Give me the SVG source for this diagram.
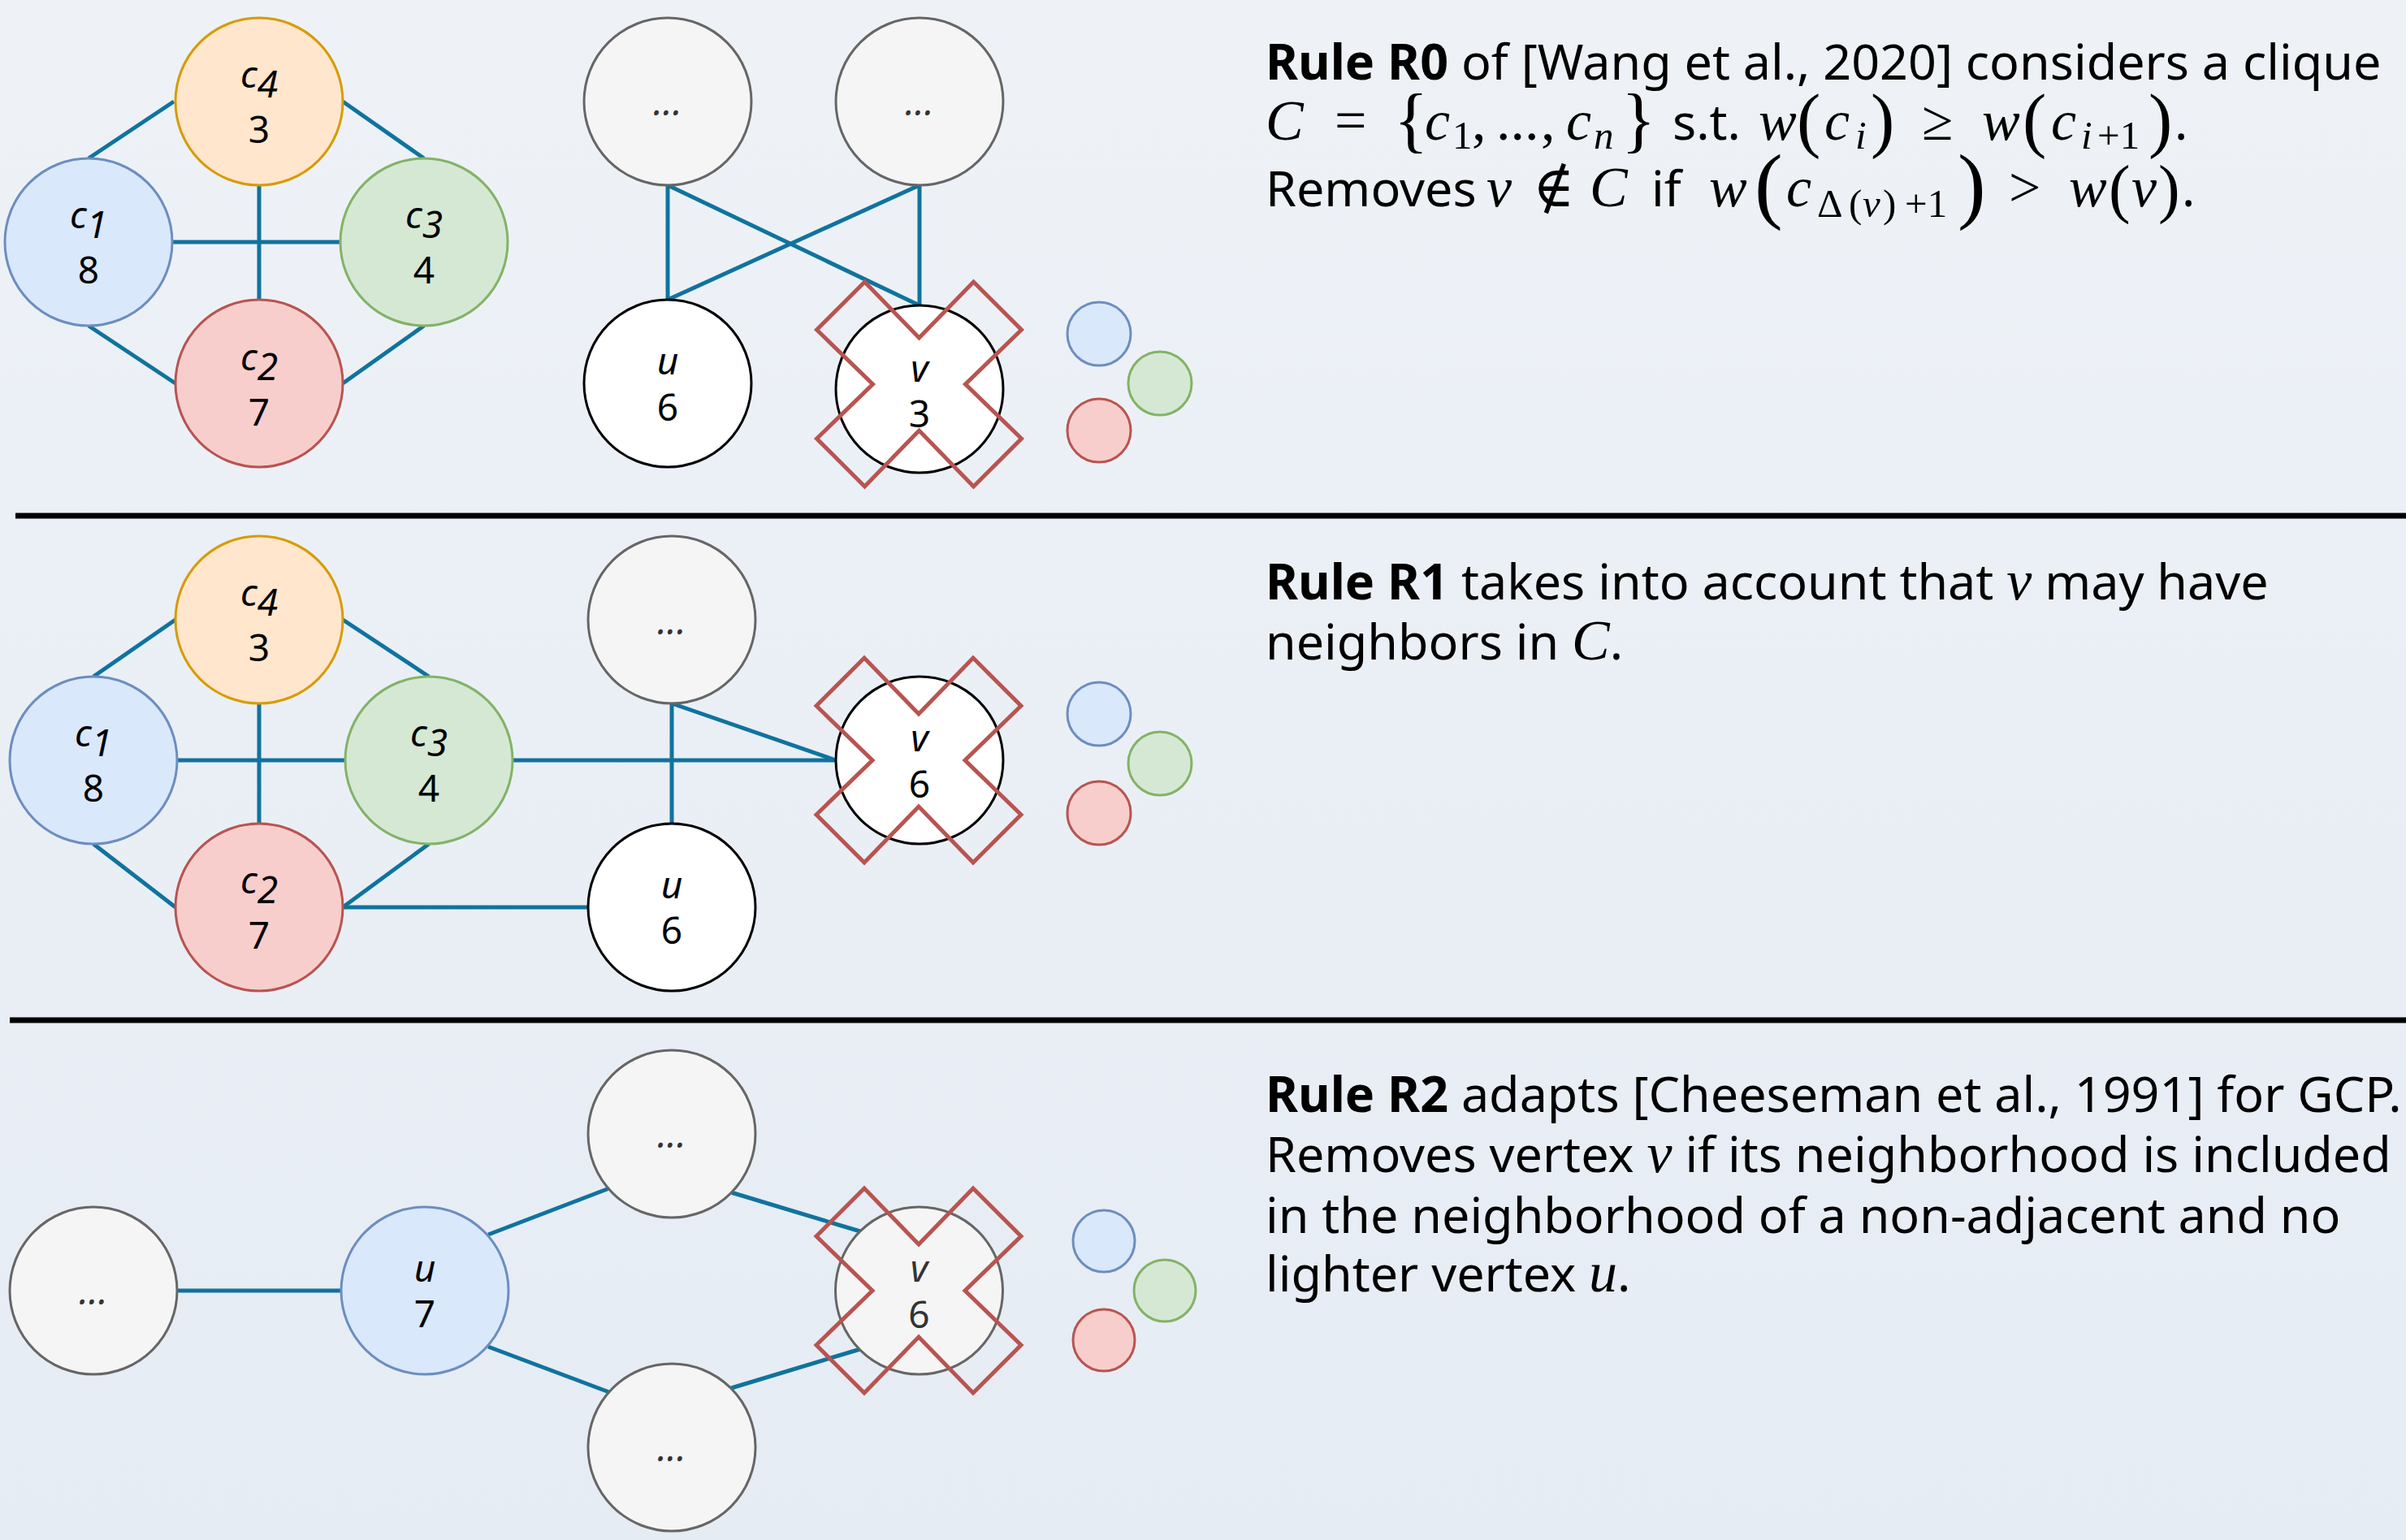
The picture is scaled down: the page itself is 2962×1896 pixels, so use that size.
<svg xmlns="http://www.w3.org/2000/svg" width="2962" height="1896" viewBox="0 0 2962 1896">
<defs>
<linearGradient id="bg" x1="0" y1="0" x2="0" y2="1">
<stop offset="0" stop-color="#EEF2F7"/>
<stop offset="1" stop-color="#E6ECF4"/>
</linearGradient>
<path id="xmark" d="M -126,-67 L -67,-126 L 0,-57 L 67,-126 L 126,-67 L 57,0 L 126,67 L 67,126 L 0,57 L -67,126 L -126,67 L -57,0 Z"/>
</defs>
<style>
.edge{stroke:#10739E;stroke-width:5;fill:none}
.n{stroke-width:3}
.sm{stroke-width:3}
.blue{fill:#dae8fc;stroke:#6c8ebf}
.orange{fill:#ffe6cc;stroke:#d79b00}
.green{fill:#d5e8d4;stroke:#82b366}
.red{fill:#f8cecc;stroke:#b85450}
.gray{fill:#f5f5f5;stroke:#666666}
.white{fill:#ffffff;stroke:#000000}
.lbl{font-family:"Noto Sans","Open Sans",sans-serif;font-size:46px;text-anchor:middle;fill:#000000}
.it{font-style:italic}
.glbl{fill:#333333}
.xm{fill:none;stroke:#b85450;stroke-width:5}
.sep{stroke:#000000;stroke-width:7}
.txt{font-family:"Noto Sans","Open Sans",sans-serif;font-size:61px;font-style:normal;fill:#000000}
.b{font-weight:bold}
.m{font-family:"Liberation Serif","DejaVu Serif",serif;font-style:italic;font-size:70px;fill:#000000}
.mu{font-family:"Liberation Serif","DejaVu Serif",serif;font-size:70px;fill:#000000}
.s{font-size:49px}
.p88{font-size:88px;font-style:normal}
.p104{font-size:104px;font-style:normal}
.p80{font-size:80px;font-style:normal}
</style>
<rect x="0" y="0" width="2962" height="1896" fill="url(#bg)"/>

<g id="separators">
<line class="sep" x1="19" y1="635" x2="2962" y2="635"/>
<line class="sep" x1="12" y1="1256" x2="2962" y2="1256"/>
</g>

<g id="connectors">
<line class="edge" x1="214" y1="125" x2="109" y2="195"/>
<line class="edge" x1="422" y1="125" x2="522" y2="195"/>
<line class="edge" x1="109" y1="401" x2="216" y2="472"/>
<line class="edge" x1="522" y1="401" x2="422" y2="472"/>
<line class="edge" x1="212" y1="298" x2="419" y2="298"/>
<line class="edge" x1="319" y1="228" x2="319" y2="369"/>
<line class="edge" x1="822" y1="228" x2="822" y2="369"/>
<line class="edge" x1="822" y1="228" x2="1132" y2="376"/>
<line class="edge" x1="1132" y1="228" x2="822" y2="369"/>
<line class="edge" x1="1132" y1="228" x2="1132" y2="376"/>
<line class="edge" x1="216" y1="763" x2="115" y2="833"/>
<line class="edge" x1="422" y1="763" x2="528" y2="833"/>
<line class="edge" x1="115" y1="1039" x2="216" y2="1117"/>
<line class="edge" x1="528" y1="1039" x2="422" y2="1117"/>
<line class="edge" x1="218" y1="936" x2="425" y2="936"/>
<line class="edge" x1="319" y1="866" x2="319" y2="1015"/>
<line class="edge" x1="631" y1="936" x2="1029" y2="936"/>
<line class="edge" x1="422" y1="1117" x2="724" y2="1117"/>
<line class="edge" x1="827" y1="866" x2="827" y2="1014"/>
<line class="edge" x1="827" y1="866" x2="1029" y2="936"/>
<line class="edge" x1="218" y1="1589" x2="420" y2="1589"/>
<line class="edge" x1="601" y1="1520" x2="750" y2="1463"/>
<line class="edge" x1="601" y1="1658" x2="750" y2="1714"/>
<line class="edge" x1="900" y1="1468" x2="1059" y2="1516"/>
<line class="edge" x1="900" y1="1709" x2="1059" y2="1661"/>
</g>

<g id="r0-c4"><circle class="n orange" cx="319" cy="125" r="103"/><text class="lbl" x="319" y="108"><tspan class="it">c</tspan><tspan class="it" dy="12">4</tspan></text><text class="lbl" x="319" y="176">3</text></g>
<g id="r0-c1"><circle class="n blue" cx="109" cy="298" r="103"/><text class="lbl" x="109" y="281"><tspan class="it">c</tspan><tspan class="it" dy="12">1</tspan></text><text class="lbl" x="109" y="349">8</text></g>
<g id="r0-c3"><circle class="n green" cx="522" cy="298" r="103"/><text class="lbl" x="522" y="281"><tspan class="it">c</tspan><tspan class="it" dy="12">3</tspan></text><text class="lbl" x="522" y="349">4</text></g>
<g id="r0-c2"><circle class="n red" cx="319" cy="472" r="103"/><text class="lbl" x="319" y="456"><tspan class="it">c</tspan><tspan class="it" dy="12">2</tspan></text><text class="lbl" x="319" y="524">7</text></g>
<g id="r0-n1"><circle class="n gray" cx="822" cy="125" r="103"/><text class="lbl it glbl" x="822" y="142">...</text></g>
<g id="r0-n2"><circle class="n gray" cx="1132" cy="125" r="103"/><text class="lbl it glbl" x="1132" y="142">...</text></g>
<g id="r0-u"><circle class="n white" cx="822" cy="472" r="103"/><text class="lbl it" x="822" y="461">u</text><text class="lbl" x="822" y="518">6</text></g>
<g id="r0-v"><circle class="n white" cx="1132" cy="479" r="103"/><text class="lbl it" x="1132" y="470">v</text><text class="lbl" x="1132" y="526">3</text><use href="#xmark" class="xm" transform="translate(1131.5,473)"/></g>
<g id="r0-colors"><circle class="sm blue" cx="1353" cy="411" r="39"/><circle class="sm green" cx="1428" cy="472" r="39"/><circle class="sm red" cx="1353" cy="530" r="39"/></g>
<g id="r0-text">
<text class="txt" x="1558" y="98"><tspan class="b">Rule R0</tspan> of [Wang et al., 2020] considers a clique</text>
<text class="mu"><tspan class="m" x="1558" y="172">C</tspan><tspan x="1643" y="172">=</tspan><tspan class="p88" x="1716" y="177">{</tspan><tspan class="m" x="1754" y="172">c</tspan><tspan class="s" x="1788" y="183">1</tspan><tspan x="1812" y="172">,</tspan><tspan x="1842" y="172">...</tspan><tspan x="1897" y="172">,</tspan><tspan class="m" x="1928" y="172">c</tspan><tspan class="m s" x="1962" y="183">n</tspan><tspan class="p88" x="1996" y="177">}</tspan><tspan class="txt" x="2059" y="172">s.t.</tspan><tspan class="m" x="2165" y="172">w</tspan><tspan class="p88" x="2212" y="177">(</tspan><tspan class="m" x="2246" y="172">c</tspan><tspan class="m s" x="2284" y="183">i</tspan><tspan class="p88" x="2303" y="177">)</tspan><tspan x="2366" y="172">≥</tspan><tspan class="m" x="2440" y="172">w</tspan><tspan class="p88" x="2490" y="177">(</tspan><tspan class="m" x="2525" y="172">c</tspan><tspan class="m s" x="2562" y="183">i</tspan><tspan class="s" x="2582" y="183">+1</tspan><tspan class="p88" x="2645" y="177">)</tspan><tspan class="txt" x="2677" y="172">.</tspan></text>
<text class="mu"><tspan class="txt" x="1558" y="254">Removes</tspan><tspan class="m" x="1830" y="254">v</tspan><tspan x="1887" y="254">∉</tspan><tspan class="m" x="1957" y="254">C</tspan><tspan class="txt" x="2033" y="254">if</tspan><tspan class="m" x="2104" y="254">w</tspan><tspan class="p104" x="2160" y="262">(</tspan><tspan class="m" x="2199" y="254">c</tspan><tspan class="s" x="2237" y="267">Δ</tspan><tspan class="s" x="2276" y="267">(</tspan><tspan class="m s" x="2293" y="267">v</tspan><tspan class="s" x="2318" y="267">)</tspan><tspan class="s" x="2345" y="267">+1</tspan><tspan class="p104" x="2410" y="262">)</tspan><tspan x="2473" y="254">&gt;</tspan><tspan class="m" x="2547" y="254">w</tspan><tspan class="p80" x="2596" y="259">(</tspan><tspan class="m" x="2624" y="254">v</tspan><tspan class="p80" x="2657" y="259">)</tspan><tspan class="txt" x="2686" y="254">.</tspan></text>
</g>

<g id="r1-c4"><circle class="n orange" cx="319" cy="763" r="103"/><text class="lbl" x="319" y="746"><tspan class="it">c</tspan><tspan class="it" dy="12">4</tspan></text><text class="lbl" x="319" y="814">3</text></g>
<g id="r1-c1"><circle class="n blue" cx="115" cy="936" r="103"/><text class="lbl" x="115" y="919"><tspan class="it">c</tspan><tspan class="it" dy="12">1</tspan></text><text class="lbl" x="115" y="987">8</text></g>
<g id="r1-c3"><circle class="n green" cx="528" cy="936" r="103"/><text class="lbl" x="528" y="919"><tspan class="it">c</tspan><tspan class="it" dy="12">3</tspan></text><text class="lbl" x="528" y="987">4</text></g>
<g id="r1-c2"><circle class="n red" cx="319" cy="1117" r="103"/><text class="lbl" x="319" y="1100"><tspan class="it">c</tspan><tspan class="it" dy="12">2</tspan></text><text class="lbl" x="319" y="1168">7</text></g>
<g id="r1-n1"><circle class="n gray" cx="827" cy="763" r="103"/><text class="lbl it glbl" x="827" y="781">...</text></g>
<g id="r1-u"><circle class="n white" cx="827" cy="1117" r="103"/><text class="lbl it" x="827" y="1106">u</text><text class="lbl" x="827" y="1162">6</text></g>
<g id="r1-v"><circle class="n white" cx="1132" cy="936" r="103"/><text class="lbl it" x="1132" y="925">v</text><text class="lbl" x="1132" y="982">6</text><use href="#xmark" class="xm" transform="translate(1131,936)"/></g>
<g id="r1-colors"><circle class="sm blue" cx="1353" cy="879" r="39"/><circle class="sm green" cx="1428" cy="940" r="39"/><circle class="sm red" cx="1353" cy="1001" r="39"/></g>
<g id="r1-text">
<text class="txt" x="1558" y="738"><tspan class="b">Rule R1</tspan> takes into account that <tspan class="m">v</tspan> may have</text>
<text class="txt" x="1558" y="812">neighbors in <tspan class="m">C</tspan>.</text>
</g>

<g id="r2-n0"><circle class="n gray" cx="115" cy="1589" r="103"/><text class="lbl it glbl" x="115" y="1606">...</text></g>
<g id="r2-u"><circle class="n blue" cx="523" cy="1589" r="103"/><text class="lbl it" x="523" y="1578">u</text><text class="lbl" x="523" y="1634">7</text></g>
<g id="r2-n1"><circle class="n gray" cx="827" cy="1396" r="103"/><text class="lbl it glbl" x="827" y="1413">...</text></g>
<g id="r2-n2"><circle class="n gray" cx="827" cy="1782" r="103"/><text class="lbl it glbl" x="827" y="1799">...</text></g>
<g id="r2-v"><circle class="n gray" cx="1131.5" cy="1589" r="103"/><text class="lbl it glbl" x="1131.5" y="1578">v</text><text class="lbl glbl" x="1131.5" y="1635">6</text><use href="#xmark" class="xm" transform="translate(1131,1589)"/></g>
<g id="r2-colors"><circle class="sm blue" cx="1359" cy="1528" r="38"/><circle class="sm green" cx="1434" cy="1589" r="38"/><circle class="sm red" cx="1359" cy="1650" r="38"/></g>
<g id="r2-text">
<text class="txt" x="1558" y="1369"><tspan class="b">Rule R2</tspan> adapts [Cheeseman et al., 1991] for GCP.</text>
<text class="txt" x="1558" y="1443">Removes vertex <tspan class="m">v</tspan> if its neighborhood is included</text>
<text class="txt" x="1558" y="1518">in the neighborhood of a non-adjacent and no</text>
<text class="txt" x="1558" y="1590">lighter vertex <tspan class="m">u</tspan>.</text>
</g>
</svg>
